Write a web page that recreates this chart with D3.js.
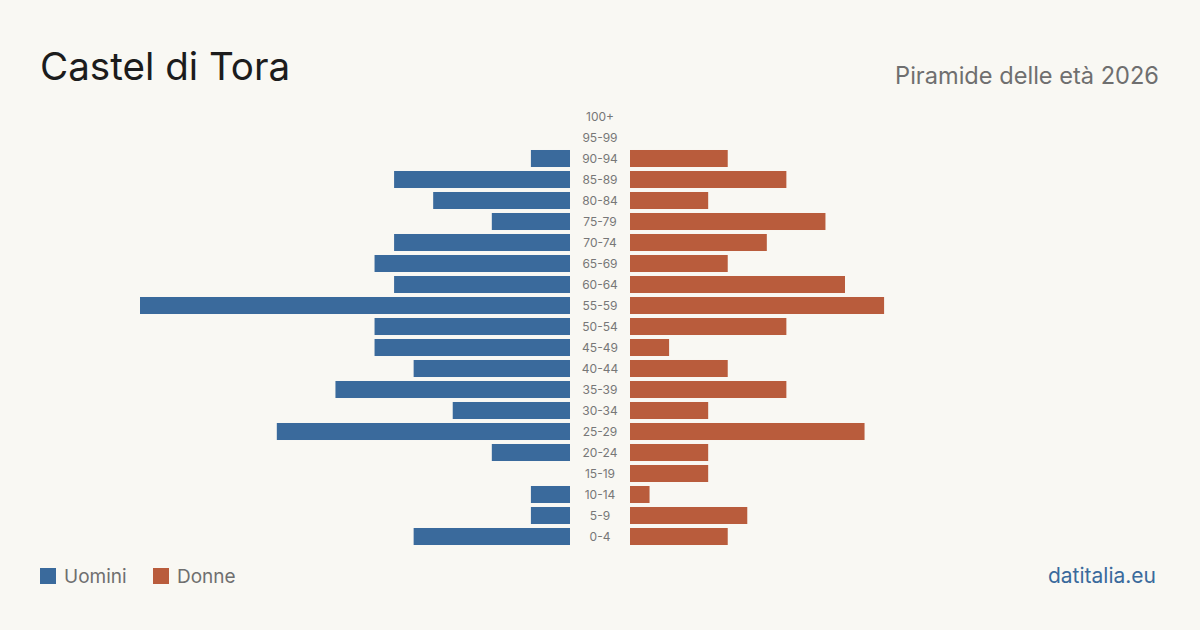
<!DOCTYPE html>
<html>
<head>
<meta charset="utf-8">
<script src="https://cdn.jsdelivr.net/npm/d3@7"></script>
<style>
  html, body { margin: 0; padding: 0; background: #f9f8f3; }
  svg { display: block; font-family: Inter, "Noto Sans", sans-serif; }
</style>
</head>
<body>
<svg width="1200" height="630"></svg>
<script>
// classi di età, dall'alto verso il basso
const ageGroups = ['100+', '95-99', '90-94', '85-89', '80-84', '75-79', '70-74', '65-69', '60-64',
  '55-59', '50-54', '45-49', '40-44', '35-39', '30-34', '25-29', '20-24', '15-19', '10-14', '5-9', '0-4'];
const men   = [0, 0, 2, 9, 7, 4, 9, 10, 9, 22, 10, 10, 8, 12, 6, 15, 4, 0, 2, 2, 8];
const women = [0, 0, 5, 8, 4, 10, 7, 5, 11, 13, 8, 2, 5, 8, 4, 12, 4, 4, 1, 6, 5];
const legendLabels = ['Uomini', 'Donne'];

const blue = '#3a6a9c';
const red = '#b95c3c';

const svg = d3.select('svg');

svg.append('rect').attr('width', 1200).attr('height', 630).attr('fill', '#f9f8f3');

svg.append('text')
  .attr('x', 40).attr('y', 80)
  .attr('font-size', 38.6)
  .attr('fill', '#1c1c1c')
  .text('Castel di Tora');

svg.append('text')
  .attr('x', 1159).attr('y', 84)
  .attr('text-anchor', 'end')
  .attr('font-size', 23.6)
  .attr('fill', '#6f6f6f')
  .text('Piramide delle età 2026');

const y = d3.scaleBand()
  .domain(ageGroups)
  .range([106, 547])
  .paddingInner(0.19)
  .paddingOuter(0.095);

const maxVal = d3.max([...men, ...women]);
const x = d3.scaleLinear().domain([0, maxVal]).range([0, 430]);

const leftEdge = 570, rightEdge = 630, center = 600;

const rows = ageGroups.map((g, i) => ({ group: g, m: men[i], f: women[i] }));

// Uomini a sinistra
svg.append('g')
  .selectAll('rect')
  .data(rows.filter(d => d.m > 0))
  .enter().append('rect')
  .attr('x', d => leftEdge - x(d.m))
  .attr('y', d => y(d.group))
  .attr('width', d => x(d.m))
  .attr('height', y.bandwidth())
  .attr('fill', blue);

// Donne a destra
svg.append('g')
  .selectAll('rect')
  .data(rows.filter(d => d.f > 0))
  .enter().append('rect')
  .attr('x', rightEdge)
  .attr('y', d => y(d.group))
  .attr('width', d => x(d.f))
  .attr('height', y.bandwidth())
  .attr('fill', red);

svg.append('g')
  .selectAll('text')
  .data(rows)
  .enter().append('text')
  .attr('x', center)
  .attr('y', d => y(d.group) + y.bandwidth() / 2)
  .attr('dy', '0.35em')
  .attr('text-anchor', 'middle')
  .attr('font-size', 12)
  .attr('fill', '#777')
  .text(d => d.group);

// legenda
const legend = svg.append('g')
  .selectAll('g')
  .data(legendLabels)
  .enter().append('g')
  .attr('transform', (d, i) => `translate(${40 + i * 113},568)`);

legend.append('rect')
  .attr('width', 16).attr('height', 16)
  .attr('fill', (d, i) => i === 0 ? blue : red);

legend.append('text')
  .attr('x', 24).attr('y', 15)
  .attr('font-size', 19)
  .attr('fill', '#6f6f6f')
  .text(d => d);

svg.append('text')
  .attr('x', 1156).attr('y', 583)
  .attr('text-anchor', 'end')
  .attr('font-size', 21)
  .attr('fill', blue)
  .text('datitalia.eu');
</script>
</body>
</html>
